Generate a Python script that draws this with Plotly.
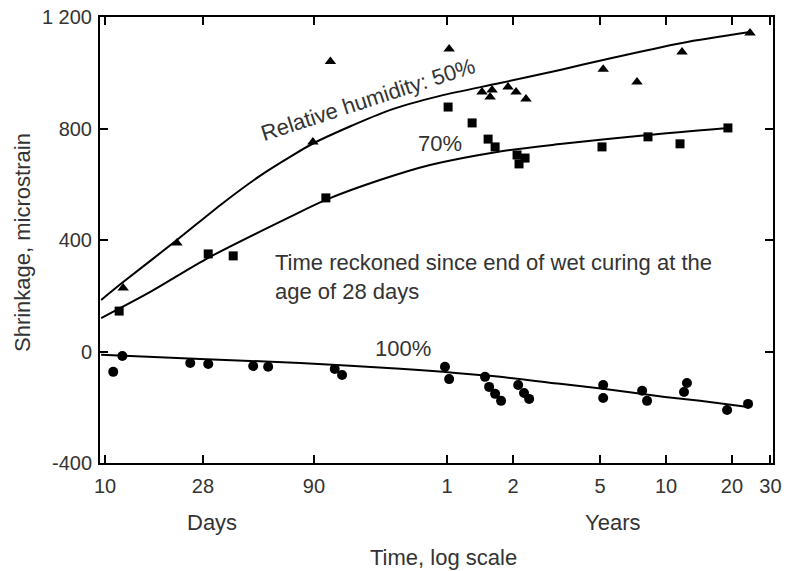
import plotly.graph_objects as go

# ---------------- data (time in days, shrinkage in microstrain) ----------------
curve50_days = [9.6, 12.1, 21.3, 34.6, 51, 70, 90, 200, 339, 637, 1197, 1883, 4320, 8830]
curve50_vals = [185, 249, 400, 533, 630, 698, 748, 866, 917, 963, 1010, 1046, 1107, 1146]

curve70_days = [9.6, 16.1, 29.6, 70, 102, 180, 305, 618, 1197, 3020, 7000]
curve70_vals = [120, 214, 336, 483, 544, 615, 669, 716, 744, 777, 802]

curve100_days = [9.6, 27.2, 77.8, 223, 637, 1197, 1883, 3610, 5220, 8650]
curve100_vals = [-12, -27, -41, -62, -91, -116, -134, -163, -177, -199]

rh50_days = [12.1, 21.3, 89, 107, 373, 527, 586, 574, 693, 754, 837, 1885, 2690, 4320, 8830]
rh50_vals = [228, 389, 752, 1040, 1085, 931, 938, 913, 949, 931, 906, 1013, 967, 1074, 1143]

rh70_days = [11.6, 29.6, 38.5, 102, 369, 475, 562, 605, 762, 829, 778, 1862, 3020, 4230, 7000]
rh70_vals = [145, 350, 343, 551, 877, 820, 762, 734, 705, 694, 673, 734, 770, 745, 802]

rh100_days = [10.9, 12.0, 24.5, 29.6, 47.5, 55.6, 112, 121, 357, 373, 544, 568, 605, 644,
              771, 820, 865, 1885, 1885, 2840, 2990, 4410, 4550, 6940, 8650]
rh100_vals = [-73, -16, -41, -45, -52, -55, -63, -84, -55, -99, -91, -127, -152, -177,
              -120, -149, -170, -120, -167, -141, -177, -145, -113, -210, -188]

x_tick_days = [10, 28, 90, 365, 730, 1825, 3650, 7300, 10950]
x_tick_text = ["10", "28", "90", "1", "2", "5", "10", "20", "30"]
y_tick_vals = [-400, 0, 400, 800, 1200]
y_tick_text = ["-400", "0", "400", "800", "1 200"]

FONT = "Liberation Sans, Arial, Helvetica, sans-serif"
TXT = "#333333"
ANN = 22

fig = go.Figure()

for xs, ys in [(curve50_days, curve50_vals), (curve70_days, curve70_vals), (curve100_days, curve100_vals)]:
    fig.add_trace(go.Scatter(x=xs, y=ys, mode="lines",
                             line=dict(color="black", width=2, shape="spline", smoothing=0.8),
                             showlegend=False, hoverinfo="skip"))

fig.add_trace(go.Scatter(x=rh50_days, y=rh50_vals, mode="markers",
                         marker=dict(symbol="triangle-up", size=10, color="black"), showlegend=False))
fig.add_trace(go.Scatter(x=rh70_days, y=rh70_vals, mode="markers",
                         marker=dict(symbol="square", size=9, color="black"), showlegend=False))
fig.add_trace(go.Scatter(x=rh100_days, y=rh100_vals, mode="markers",
                         marker=dict(symbol="circle", size=10, color="black"), showlegend=False))


def ann(x, y, text, ref="paper", **kw):
    d = dict(x=x, y=y, xref="x" if ref == "data" else "paper", yref="y" if ref == "data" else "paper",
             text=text, showarrow=False, xanchor="center", yanchor="middle",
             font=dict(size=ANN, color=TXT, family=FONT))
    d.update(kw)
    return d


annotations = [
    ann(2.2016, 905, "Relative humidity: 50%", ref="data", textangle=-18),
    ann(2.530, 748, "70%", ref="data"),
    ann(2.3614, 9, "100%", ref="data"),
    ann((273 - 100) / 673, (463 - 277) / 446,
        "Time reckoned since end of wet curing at the<br>age of 28 days", xanchor="left", align="left"),
    ann((212 - 100) / 673, (463 - 522) / 446, "Days"),
    ann((612 - 100) / 673, (463 - 522) / 446, "Years"),
    ann((443 - 100) / 673, (463 - 557) / 446, "Time, log scale"),
    ann((22 - 100) / 673, (463 - 243) / 446, "Shrinkage, microstrain", textangle=-90),
]

fig.update_layout(
    width=787, height=571,
    margin=dict(l=100, r=14, t=17, b=108),
    paper_bgcolor="white", plot_bgcolor="white",
    annotations=annotations,
    font=dict(family=FONT, size=20, color=TXT),
)
fig.update_xaxes(type="log", range=[0.977, 4.051], tickvals=x_tick_days, ticktext=x_tick_text,
                 showgrid=False, zeroline=False, showline=True, linecolor="black", linewidth=2,
                 mirror="allticks", ticks="inside", ticklen=8, tickwidth=2, tickcolor="black",
                 tickfont=dict(size=20, color=TXT, family=FONT), ticklabelstandoff=4, automargin=False)
fig.update_yaxes(range=[-400, 1200], tickvals=y_tick_vals, ticktext=y_tick_text,
                 showgrid=False, zeroline=False, showline=True, linecolor="black", linewidth=2,
                 mirror="allticks", ticks="inside", ticklen=8, tickwidth=2, tickcolor="black",
                 tickfont=dict(size=20, color=TXT, family=FONT), ticklabelstandoff=2, automargin=False)

fig.write_html("out.html", config={"displayModeBar": False},
               post_script="document.body.style.margin='0';document.body.style.overflow='hidden';")
